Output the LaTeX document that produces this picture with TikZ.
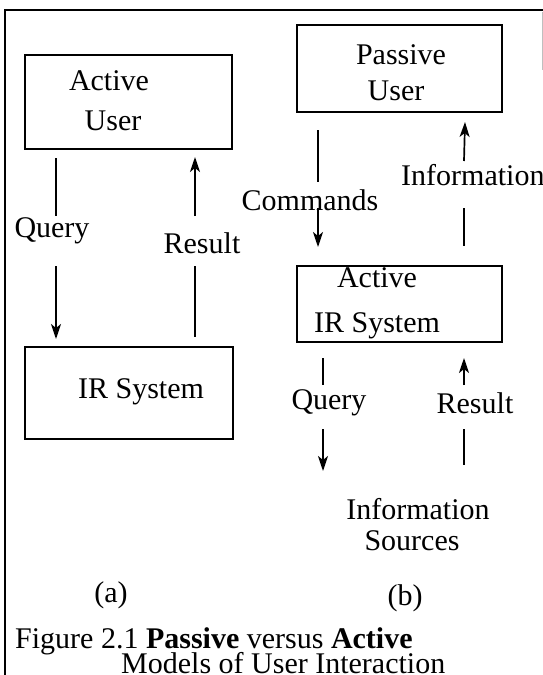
\documentclass[tikz,border=0pt]{standalone}
\usepackage{fontspec}
\setmainfont{Liberation Serif}
\usetikzlibrary{arrows.meta}
\begin{document}
\begin{tikzpicture}[x=1pt,y=-1pt,
  box/.style={draw,line width=2pt,minimum width=#1,inner sep=0pt,outer sep=0pt},
  lbl/.style={inner sep=0pt,anchor=base,font=\fontsize{30}{36}\selectfont},
  conn/.style={line width=1.7pt},
  arr/.style={line width=1.7pt,-{Stealth[length=15pt,width=10pt,inset=4pt]}}]
\useasboundingbox (0,0) rectangle (543,675);
% frame
\coordinate (f1) at (5,675);
\coordinate (f2) at (5,10);
\coordinate (f3) at (543,10);
\draw[line width=2.2pt] (f1) -- (f2) -- (f3);
\coordinate (g1) at (542,12);
\coordinate (g2) at (542,70);
\draw[line width=1pt,black!25] (g1) -- (g2);
% boxes
\node[box=207pt,minimum height=94pt] (au) at (128.5,102) {};
\node[box=205pt,minimum height=87pt] (pu) at (399.5,68.5) {};
\node[box=205pt,minimum height=76pt] (ai) at (399.5,304) {};
\node[box=208pt,minimum height=92pt] (ir) at (129,393) {};
% box texts
\node[lbl] (t1) at (109,90.7) {Active};
\node[lbl] (t2) at (113,130) {User};
\node[lbl] (t3) at (401,64) {Passive};
\node[lbl] (t4) at (396,100) {User};
\node[lbl] (t5) at (377,287) {Active};
\node[lbl] (t6) at (377,332) {IR System};
\node[lbl] (t7) at (141,398) {IR System};
% labels
\node[lbl] (qa) at (52,237) {Query};
\node[lbl] (ra) at (202,253) {Result};
\node[lbl] (cm) at (310,210) {Commands};
\node[lbl,anchor=base west] (inf) at (401,185) {Information};
\node[lbl] (qb) at (329,409) {Query};
\node[lbl] (rb) at (475,413) {Result};
\node[lbl] (is1) at (418,519) {Information};
\node[lbl] (is2) at (412,550) {Sources};
\node[lbl] (la) at (111,602) {(a)};
\node[lbl] (lb) at (405,605) {(b)};
\node[lbl,anchor=base west] (cap1) at (15,648) {Figure 2.1 \textbf{Passive} versus \textbf{Active}};
\node[lbl,anchor=base west] (cap2) at (121,673) {Models of User Interaction};
% connectors (a)
\coordinate (qa1) at (56,158); \coordinate (qa2) at (56,216);
\coordinate (qa3) at (56,266); \coordinate (qa4) at (56,339);
\draw[conn] (qa1) -- (qa2);
\draw[arr] (qa3) -- (qa4);
\coordinate (ra1) at (195,216); \coordinate (ra2) at (195,157);
\coordinate (ra3) at (195,266); \coordinate (ra4) at (195,337);
\draw[arr] (ra1) -- (ra2);
\draw[conn] (ra3) -- (ra4);
% connectors (b)
\coordinate (cb1) at (318,130); \coordinate (cb2) at (318,182);
\coordinate (cb3) at (318,208); \coordinate (cb4) at (318,247);
\draw[conn] (cb1) -- (cb2);
\draw[arr] (cb3) -- (cb4);
\coordinate (ib1) at (464,161); \coordinate (ib2) at (465,122);
\coordinate (ib3) at (464,208); \coordinate (ib4) at (464,246);
\draw[arr] (ib1) -- (ib2);
\draw[conn] (ib3) -- (ib4);
\coordinate (qb1) at (323,358); \coordinate (qb2) at (323,385);
\coordinate (qb3) at (323,429); \coordinate (qb4) at (323,471);
\draw[conn] (qb1) -- (qb2);
\draw[arr] (qb3) -- (qb4);
\coordinate (rb1) at (464,385); \coordinate (rb2) at (464,358);
\coordinate (rb3) at (464,429); \coordinate (rb4) at (464,465);
\draw[arr] (rb1) -- (rb2);
\draw[conn] (rb3) -- (rb4);
\end{tikzpicture}
\end{document}
